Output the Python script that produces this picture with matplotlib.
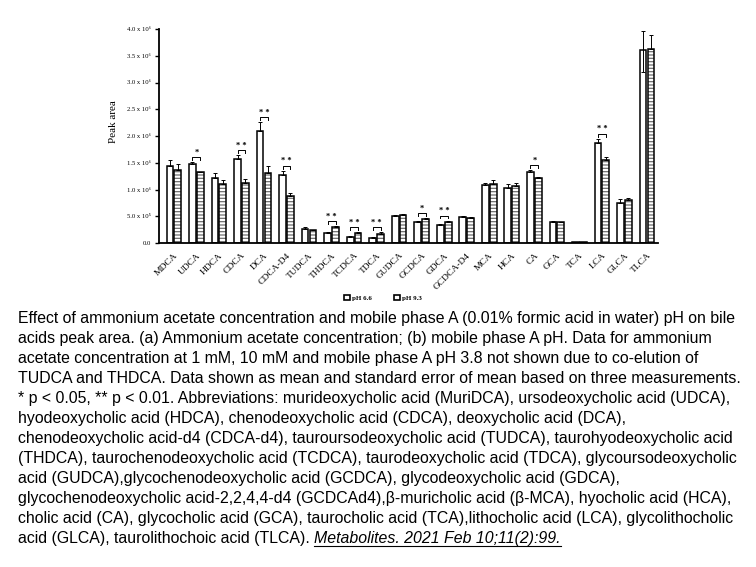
import matplotlib
matplotlib.use("Agg")
import matplotlib.pyplot as plt
from matplotlib.patches import Patch
import numpy as np

# ---------------- data (values in units of 10^6) ----------------
categories = ["MDCA", "UDCA", "HDCA", "CDCA", "DCA", "CDCA-D4", "TUDCA", "THDCA",
              "TCDCA", "TDCA", "GUDCA", "GCDCA", "GDCA", "GCDCA-D4", "MCA", "HCA",
              "CA", "GCA", "TCA", "LCA", "GLCA", "TLCA"]
ph66 = [1.43, 1.48, 1.22, 1.57, 2.10, 1.27, 0.26, 0.19, 0.12, 0.09, 0.50,
        0.39, 0.34, 0.49, 1.08, 1.03, 1.32, 0.40, 0.02, 1.86, 0.75, 3.60]
ph66_err = [0.13, 0.03, 0.08, 0.07, 0.16, 0.08, 0.03, 0.02, 0.02, 0.03, 0.02,
            0.02, 0.02, 0.02, 0.05, 0.07, 0.04, 0.02, 0.005, 0.09, 0.07, 0.37]
ph66_err_low = [0, 0, 0, 0, 0, 0, 0, 0, 0, 0, 0,
                0, 0, 0, 0, 0, 0, 0, 0, 0, 0, 0.40]
ph93 = [1.37, 1.32, 1.10, 1.12, 1.31, 0.88, 0.24, 0.30, 0.18, 0.17, 0.52,
        0.45, 0.40, 0.47, 1.11, 1.07, 1.21, 0.39, 0.02, 1.56, 0.80, 3.63]
ph93_err = [0.10, 0.01, 0.08, 0.07, 0.12, 0.05, 0.01, 0.02, 0.02, 0.03, 0.02,
            0.02, 0.02, 0.02, 0.06, 0.06, 0.02, 0.01, 0.005, 0.05, 0.04, 0.26]
significance = ["", "*", "", "**", "**", "**", "", "**", "**", "**", "",
                "*", "**", "", "", "", "*", "", "", "**", "", ""]
series_labels = ["pH 6.6", "pH 9.3"]
ytick_values = [0, 0.5, 1.0, 1.5, 2.0, 2.5, 3.0, 3.5, 4.0]
ytick_labels = ["0.0", "5.0 x 10\u2075", "1.0 x 10\u2076", "1.5 x 10\u2076", "2.0 x 10\u2076",
                "2.5 x 10\u2076", "3.0 x 10\u2076", "3.5 x 10\u2076", "4.0 x 10\u2076"]
y_label = "Peak area"

caption_lines = [
    "Effect of ammonium acetate concentration and mobile phase A (0.01% formic acid in water) pH on bile",
    "acids peak area. (a) Ammonium acetate concentration; (b) mobile phase A pH. Data for ammonium",
    "acetate concentration at 1 mM, 10 mM and mobile phase A pH 3.8 not shown due to co-elution of",
    "TUDCA and THDCA. Data shown as mean and standard error of mean based on three measurements.",
    "* p < 0.05, ** p < 0.01. Abbreviations: murideoxycholic acid (MuriDCA), ursodeoxycholic acid (UDCA),",
    "hyodeoxycholic acid (HDCA), chenodeoxycholic acid (CDCA), deoxycholic acid (DCA),",
    "chenodeoxycholic acid-d4 (CDCA-d4), tauroursodeoxycholic acid (TUDCA), taurohyodeoxycholic acid",
    "(THDCA), taurochenodeoxycholic acid (TCDCA), taurodeoxycholic acid (TDCA), glycoursodeoxycholic",
    "acid (GUDCA),glycochenodeoxycholic acid (GCDCA), glycodeoxycholic acid (GDCA),",
    "glycochenodeoxycholic acid-2,2,4,4-d4 (GCDCAd4),\u03b2-muricholic acid (\u03b2-MCA), hyocholic acid (HCA),",
    "cholic acid (CA), glycocholic acid (GCA), taurocholic acid (TCA),lithocholic acid (LCA), glycolithocholic",
    "acid (GLCA), taurolithochoic acid (TLCA). ",
]
citation = "Metabolites. 2021 Feb 10;11(2):99."

# ---------------- figure ----------------
W, H = 756, 567
fig = plt.figure(figsize=(W / 100, H / 100), dpi=100)
fig.patch.set_facecolor("white")

serif = ["Liberation Serif", "DejaVu Serif"]
sans = ["Liberation Sans", "DejaVu Sans"]

ax = fig.add_axes([159 / W, 1 - 243 / H, (658 - 159) / W, (243 - 29) / H])
x = np.arange(len(categories))
w = 0.30
off = 0.175

ax.bar(x - off, ph66, w, color="white", edgecolor="black", linewidth=1.1, zorder=2)
plt.rcParams["hatch.linewidth"] = 0.9
ax.bar(x + off, ph93, w, color="white", edgecolor="#6e6e6e", hatch="-----",
       linewidth=0, zorder=2)
ax.bar(x + off, ph93, w, fill=False, edgecolor="black", linewidth=1.1, zorder=3)

ax.errorbar(x - off, ph66, yerr=[ph66_err_low, ph66_err], fmt="none", ecolor="black",
            elinewidth=0.7, capsize=1.5, capthick=0.7, zorder=4)
ax.errorbar(x + off, ph93, yerr=[np.zeros(len(ph93)), ph93_err], fmt="none",
            ecolor="black", elinewidth=0.7, capsize=1.5, capthick=0.7, zorder=4)

for i, s in enumerate(significance):
    if not s:
        continue
    top = max(ph66[i] + ph66_err[i], ph93[i] + ph93_err[i]) + 0.09
    ax.plot([i - off, i - off, i + off, i + off], [top - 0.05, top, top, top - 0.05],
            color="black", lw=0.7, zorder=4)
    ax.text(i, top + 0.01, " ".join(s), ha="center", va="bottom", fontsize=6,
            family=serif, fontweight="bold")

ax.set_xlim(-0.66, 21.49)
ax.set_ylim(0, 4.0)
for sp in ["top", "right"]:
    ax.spines[sp].set_visible(False)
ax.spines["left"].set_linewidth(1.3)
ax.spines["bottom"].set_linewidth(1.3)

ax.set_yticks(ytick_values)
ax.set_yticklabels(ytick_labels, family=serif, fontsize=4.8)
ax.tick_params(axis="y", length=3, width=1, direction="out", pad=3)
ax.set_xticks(x)
ax.set_xticklabels(categories, rotation=45, ha="right", rotation_mode="anchor",
                   family=serif, fontsize=6.8)
ax.tick_params(axis="x", length=0, pad=6)

fig.text(113 / W, 1 - 122 / H, y_label, rotation=90, ha="center", va="center",
         family=serif, fontsize=8)

handles = [Patch(facecolor="white", edgecolor="black", linewidth=1.2),
           Patch(facecolor="white", edgecolor="black", linewidth=1.2)]
fig.legend(handles, series_labels, loc="center", bbox_to_anchor=(383 / W, 1 - 298 / H),
           ncol=2, frameon=False, handlelength=0.8, handleheight=0.8,
           handletextpad=0.3, columnspacing=3.2,
           prop={"family": serif, "size": 5, "weight": "bold"})

# ---------------- caption ----------------
fig.canvas.draw()
renderer = fig.canvas.get_renderer()
probe = fig.text(0, 0, caption_lines[0], family=sans, fontsize=10)
pw = probe.get_window_extent(renderer).width
probe.remove()
cap_size = 10 * 722.0 / pw

x0 = 18 / W
texts = []
for i, line in enumerate(caption_lines):
    yb = 1 - (323 + i * 20.0) / H
    t = fig.text(x0, yb, line, family=sans, fontsize=cap_size, va="baseline", ha="left")
    texts.append(t)

fig.canvas.draw()
last = texts[-1]
bb = last.get_window_extent(renderer)
yb = 1 - (323 + (len(caption_lines) - 1) * 20.0) / H
ct = fig.text(bb.x1 / W, yb, citation, family=sans, fontsize=cap_size, style="italic",
              va="baseline", ha="left")
fig.canvas.draw()
cb = ct.get_window_extent(renderer)
uy = yb - 2.5 / H
fig.add_artist(plt.Line2D([cb.x0 / W, cb.x1 / W], [uy, uy], color="black", lw=0.8,
                          transform=fig.transFigure))

fig.savefig("out.png", dpi=100)
